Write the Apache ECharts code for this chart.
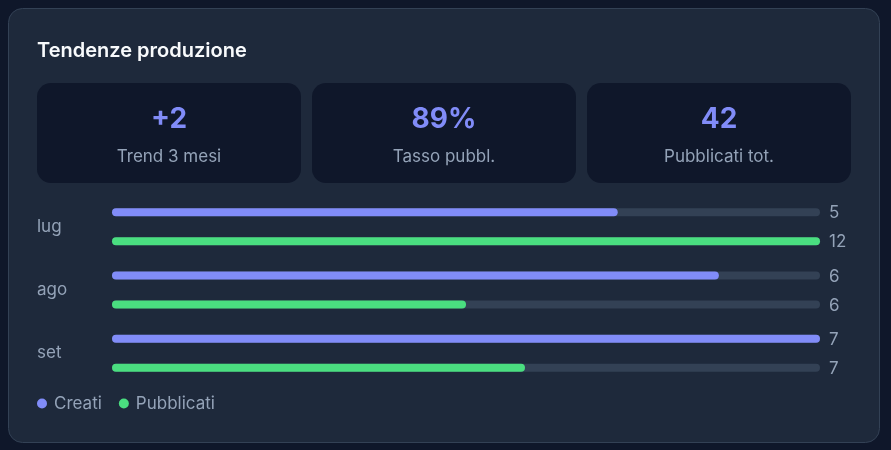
<!DOCTYPE html>
<html>
<head>
<meta charset="utf-8">
<script src="https://cdn.jsdelivr.net/npm/echarts@6/dist/echarts.min.js"></script>
<style>
html,body{margin:0;padding:0;background:#0f172a;}
#chart{width:891px;height:450px;}
</style>
</head>
<body>
<div id="chart"></div>
<script>
const categories = ['lug', 'ago', 'set'];
const seriesNames = ['Creati', 'Pubblicati'];
const creati = [5, 6, 7];
const pubblicati = [12, 6, 7];
const kpiValues = ['+2', '89%', '42'];
const kpiLabels = ['Trend 3 mesi', 'Tasso pubbl.', 'Pubblicati tot.'];
const titleText = 'Tendenze produzione';

const FONT = 'Inter, "Noto Sans", sans-serif';
const GRID_LEFT = 112, GRID_RIGHT = 71;
const chart = echarts.init(document.getElementById('chart'), null, {renderer: 'canvas'});

const graphics = [
  {type: 'rect', z: -10, shape: {x: 8.5, y: 8.5, width: 871, height: 434, r: 14},
   style: {fill: '#1e293b', stroke: '#334155', lineWidth: 1}},
  {type: 'text', z: -5, style: {text: titleText, x: 37, y: 51, fill: '#f8fafc',
   fontSize: 20, fontWeight: 600, fontFamily: FONT, align: 'left', verticalAlign: 'middle'}}
];
const boxX = [37, 312, 587];
kpiValues.forEach((v, i) => {
  graphics.push({type: 'rect', z: -8, shape: {x: boxX[i], y: 83, width: 264, height: 100, r: 14},
    style: {fill: '#0f172a'}});
  graphics.push({type: 'text', z: -5, style: {text: v, x: boxX[i] + 132, y: 120, fill: '#818cf8',
    fontSize: 28, fontWeight: 700, fontFamily: FONT, align: 'center', verticalAlign: 'middle'}});
  graphics.push({type: 'text', z: -5, style: {text: kpiLabels[i], x: boxX[i] + 132, y: 157, fill: '#94a3b8',
    fontSize: 17, fontFamily: FONT, align: 'center', verticalAlign: 'middle'}});
});

function mkSeries(name, data, axisIdx, color) {
  return {
    name: name, type: 'bar', xAxisIndex: axisIdx, data: data,
    barWidth: 8, barGap: '262%',
    showBackground: true,
    backgroundStyle: {color: '#334155', borderRadius: 4},
    itemStyle: {color: color, borderRadius: 4},
    label: {show: true, position: 'right', distance: 9, color: '#94a3b8', fontSize: 17, fontFamily: FONT},
    labelLayout: function (p) {
      return {
        x: chart.getWidth() - GRID_RIGHT + 9,
        y: p.rect.y + p.rect.height / 2 + 1,
        align: 'left', verticalAlign: 'middle'
      };
    }
  };
}

chart.setOption({
  backgroundColor: '#0f172a',
  animation: false,
  graphic: graphics,
  grid: {left: GRID_LEFT, right: GRID_RIGHT, top: 195, height: 190},
  xAxis: [
    {type: 'value', min: 0, max: Math.max(...creati), show: false},
    {type: 'value', min: 0, max: Math.max(...pubblicati), show: false}
  ],
  yAxis: {
    type: 'category', data: categories, inverse: true,
    axisLine: {show: false}, axisTick: {show: false}, splitLine: {show: false},
    axisLabel: {align: 'left', margin: GRID_LEFT - 37, color: '#94a3b8', fontSize: 17, fontFamily: FONT}
  },
  legend: {
    data: seriesNames, left: 32, top: 390, icon: 'circle', itemWidth: 10, itemHeight: 10, itemGap: 17,
    textStyle: {color: '#94a3b8', fontSize: 17, fontFamily: FONT, padding: [0, 0, 0, 2]}
  },
  series: [
    mkSeries(seriesNames[0], creati, 0, '#818cf8'),
    mkSeries(seriesNames[1], pubblicati, 1, '#4ade80')
  ]
});
</script>
</body>
</html>
